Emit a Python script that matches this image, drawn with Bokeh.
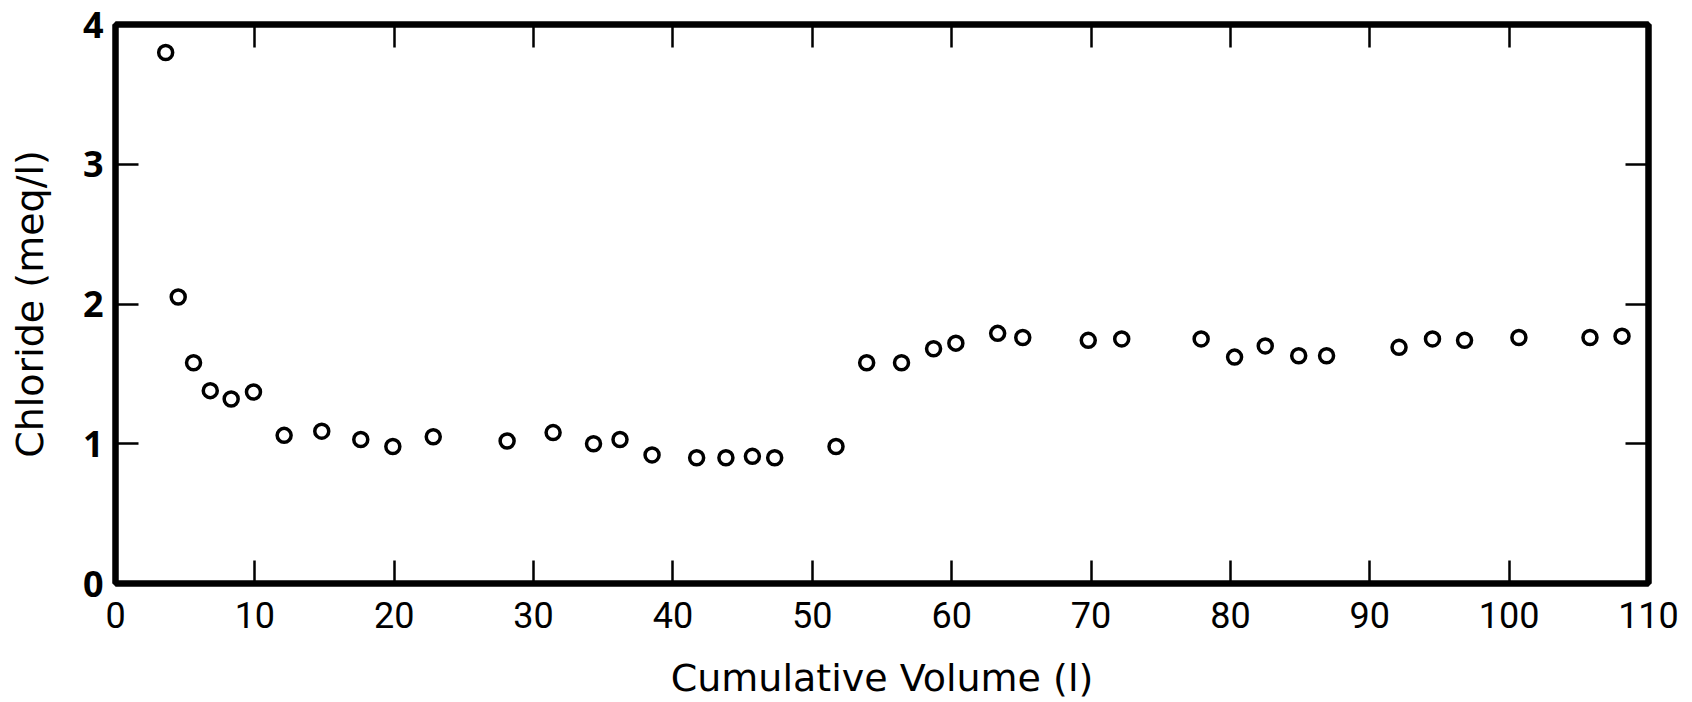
from bokeh.plotting import figure
from bokeh.models import Range1d, LinearAxis, FixedTicker, CustomLabelingPolicy
from bokeh.embed import file_html
from bokeh.resources import INLINE

volume = [3.6, 4.5, 5.6, 6.8, 8.3, 9.9, 12.1, 14.8, 17.6, 19.9, 22.8, 28.1, 31.4, 34.3, 36.2,
          38.5, 41.7, 43.8, 45.7, 47.3, 51.7, 53.9, 56.4, 58.7, 60.3, 63.3, 65.1, 69.8, 72.2,
          77.9, 80.3, 82.5, 84.9, 86.9, 92.1, 94.5, 96.8, 100.7, 105.8, 108.1]
chloride = [3.80, 2.05, 1.58, 1.38, 1.32, 1.37, 1.06, 1.09, 1.03, 0.98, 1.05, 1.02, 1.08, 1.00, 1.03,
            0.92, 0.90, 0.90, 0.91, 0.90, 0.98, 1.58, 1.58, 1.68, 1.72, 1.79, 1.76, 1.74, 1.75,
            1.75, 1.62, 1.70, 1.63, 1.63, 1.69, 1.75, 1.74, 1.76, 1.76, 1.77]
x_ticks = [0, 10, 20, 30, 40, 50, 60, 70, 80, 90, 100, 110]
y_ticks = [0, 1, 2, 3, 4]
x_title = "Cumulative Volume (l)"
y_title = "Chloride (meq/l)"

p = figure(width=1684, height=702, output_backend="svg", toolbar_location=None,
           x_range=Range1d(0, 110), y_range=Range1d(0, 4),
           min_border_left=115, min_border_right=36, min_border_top=24, min_border_bottom=119)
p.grid.visible = False
p.outline_line_color = "black"
p.outline_line_width = 6
p.background_fill_color = "white"
p.border_fill_color = "white"

label_font = "DejaVu Sans"

no_labels = CustomLabelingPolicy(code="""
const ids = [...indices];
for (const i of ids) indices.unset(i);
return indices;
""")

def style(ax, ticks, show_labels):
    ax.ticker = FixedTicker(ticks=ticks)
    ax.axis_line_color = "black"
    ax.axis_line_width = 6
    ax.major_tick_in = 23
    ax.major_tick_out = 0
    ax.major_tick_line_width = 2.5
    ax.major_tick_line_color = "black"
    ax.minor_tick_line_color = None
    if not show_labels:
        ax.major_label_policy = no_labels
        ax.major_label_standoff = 0

xa = p.xaxis[0]
style(xa, x_ticks, True)
xa.major_label_text_font = "Roboto"
xa.major_label_text_font_size = "36px"
xa.major_label_text_color = "black"
xa.major_label_standoff = 18
xa.axis_label = x_title
xa.axis_label_text_font = label_font
xa.axis_label_text_font_size = "38px"
xa.axis_label_text_font_style = "normal"
xa.axis_label_text_color = "black"
xa.axis_label_standoff = 25

ya = p.yaxis[0]
style(ya, y_ticks, True)
ya.major_label_text_font = "Open Sans"
ya.major_label_text_font_size = "36px"
ya.major_label_text_font_style = "bold"
ya.major_label_text_color = "black"
ya.major_label_standoff = 12
ya.major_label_orientation = "horizontal"
ya.axis_label = y_title
ya.axis_label_text_font = label_font
ya.axis_label_text_font_size = "38px"
ya.axis_label_text_font_style = "normal"
ya.axis_label_text_color = "black"
ya.axis_label_standoff = 28

top = LinearAxis()
style(top, x_ticks, False)
p.add_layout(top, "above")
right = LinearAxis()
style(right, y_ticks, False)
p.add_layout(right, "right")

p.scatter(volume, chloride, marker="circle", size=14, fill_color=None,
          line_color="black", line_width=3.5)

open("out.html", "w").write(file_html(p, INLINE))
